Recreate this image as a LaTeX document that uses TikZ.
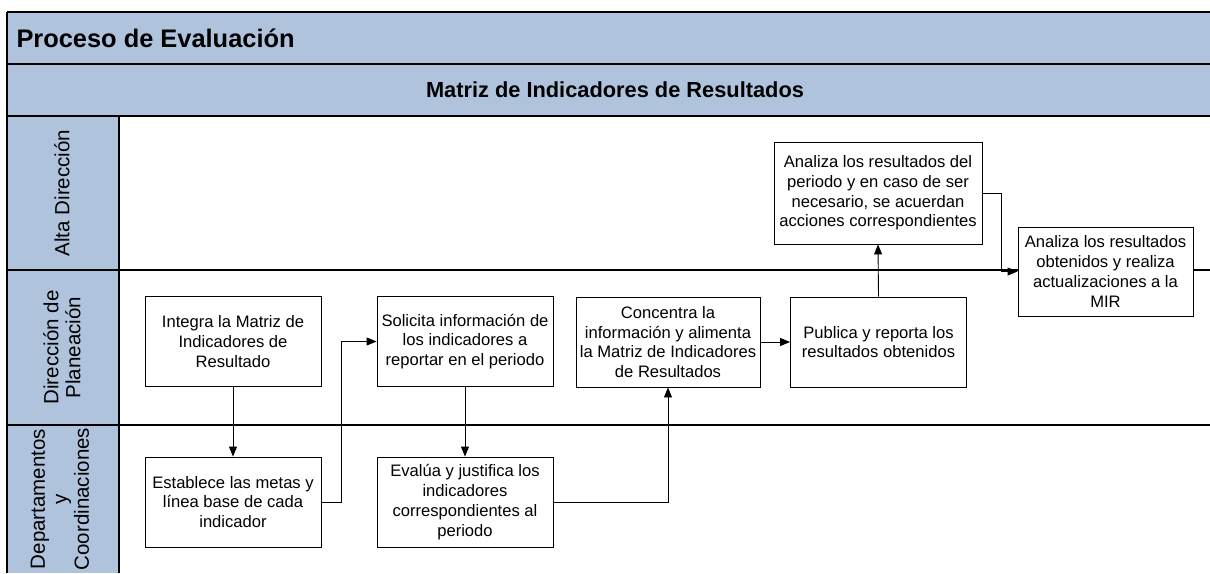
\documentclass[tikz,border=0pt]{standalone}
\usepackage{fontspec}
\setmainfont{Liberation Sans}
\usetikzlibrary{arrows.meta}
\definecolor{hdr}{RGB}{176,195,220}
\tikzset{
  procbox/.style={draw=black, fill=white, line width=0.9pt, align=center, inner sep=0pt,
    font=\fontsize{16.6}{19.8}\selectfont},
  conn/.style={draw=black, line width=0.9pt, -{Triangle[length=10pt,width=8pt]}},
  frame/.style={draw=black, line width=1.2pt},
  lanelabel/.style={rotate=90, align=center, font=\fontsize{20.5}{22}\selectfont}
}
\begin{document}
\begin{tikzpicture}[x=1pt,y=-1pt]
\useasboundingbox (0,0) rectangle (1210,573);
% header and lane label backgrounds
\fill[hdr] (7,12) rectangle (1210,116);
\fill[hdr] (7,116) rectangle (119,573);
% frame lines
\draw[frame] (7,12) -- (1210,12);
\draw[frame] (7,12) -- (7,573);
\draw[frame] (7,64) -- (1210,64);
\draw[frame] (7,116) -- (1210,116);
\draw[frame] (119,116) -- (119,573);
\draw[frame] (7,270) -- (1210,270);
\draw[frame] (7,425) -- (1210,425);
% header texts
\node[anchor=west, font=\fontsize{25.4}{28}\selectfont\bfseries] (title) at (13,38) {Proceso de Evaluación};
\node[font=\fontsize{21.8}{26}\selectfont\bfseries] (subtitle) at (615,90) {Matriz de Indicadores de Resultados};
% lane labels
\node[lanelabel] (laneA) at (62,193) {Alta Dirección};
\node[lanelabel] (laneB) at (62,347.5) {Dirección de\\Planeación};
\node[lanelabel] (laneC) at (60,499) {Departamentos\\y\\Coordinaciones};
% process boxes
\node[procbox, minimum width=176pt, minimum height=90pt] (integra) at (233,341.5) {Integra la Matriz de\\Indicadores de\\Resultado};
\node[procbox, minimum width=176pt, minimum height=90pt] (solicita) at (465,341.5) {Solicita información de\\los indicadores a\\reportar en el periodo};
\node[procbox, minimum width=176pt, minimum height=90pt] (establece) at (233,502) {Establece las metas y\\línea base de cada\\indicador};
\node[procbox, minimum width=176pt, minimum height=90pt] (evalua) at (465,502) {Evalúa y justifica los\\indicadores\\correspondientes al\\periodo};
\node[procbox, minimum width=184pt, minimum height=90pt] (concentra) at (668,342) {Concentra la\\información y alimenta\\la Matriz de Indicadores\\de Resultados};
\node[procbox, minimum width=176pt, minimum height=90pt] (publica) at (878.5,342) {Publica y reporta los\\resultados obtenidos};
\node[procbox, minimum width=208pt, minimum height=102pt] (analiza1) at (878,193) {Analiza los resultados del\\periodo y en caso de ser\\necesario, se acuerdan\\acciones correspondientes};
\node[procbox, minimum width=175pt, minimum height=89pt] (analiza2) at (1105.5,271.5) {Analiza los resultados\\obtenidos y realiza\\actualizaciones a la\\MIR};
% connectors
\draw[conn] (integra.south) -- (establece.north);
\draw[conn] (establece.east) -- ++(20,0) |- (solicita.west);
\draw[conn] (solicita.south) -- (evalua.north);
\draw[conn] (evalua.east) -| (concentra.south);
\draw[conn] (concentra.east) -- (publica.west);
\draw[conn] (publica.north) -- (analiza1.south);
\draw[conn] (analiza1.east) -- ++(19,0) |- (analiza2.west);
\end{tikzpicture}
\end{document}
